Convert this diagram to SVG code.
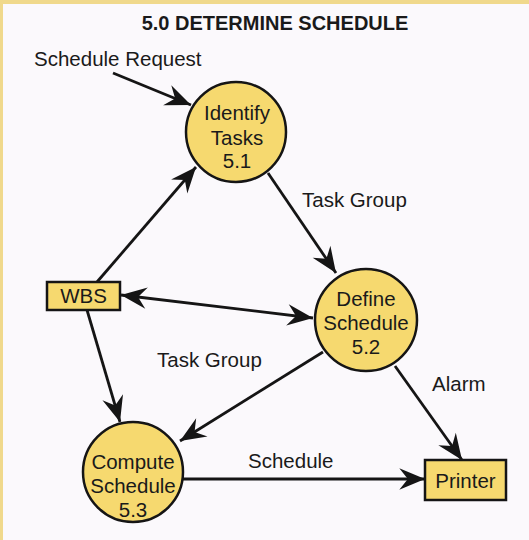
<svg xmlns="http://www.w3.org/2000/svg" width="529" height="540" viewBox="0 0 529 540">
<defs>
<marker id="ah" markerUnits="userSpaceOnUse" markerWidth="30" markerHeight="30" viewBox="-26 -11 28 22" refX="0" refY="0" orient="auto-start-reverse">
<path d="M0,0 L-24,-10 L-16,0 L-24,10 Z" fill="#151515"/>
</marker>
<style>
.bubble{fill:#f6d96f;stroke:#151515;stroke-width:2.5}
.box{fill:#f6d96f;stroke:#151515;stroke-width:2.5}
.t{font-family:"Liberation Sans",Arial,sans-serif;font-size:20.5px;fill:#1a1a1a;text-anchor:middle}
.lbl{font-family:"Liberation Sans",Arial,sans-serif;font-size:20.5px;fill:#1a1a1a}
.c{fill:none;stroke:#151515;stroke-width:2.8;marker-end:url(#ah)}
</style>
</defs>
<rect width="529" height="540" fill="#fbf9fc"/>
<rect x="0" y="0" width="529" height="4" fill="#f0d98c"/>
<rect x="0" y="0" width="3" height="540" fill="#f0d98c"/>
<text x="275" y="30" class="t" style="font-weight:bold;font-size:20px">5.0 DETERMINE SCHEDULE</text>
<g id="connectors">
<line class="c" x1="113" y1="73" x2="191" y2="105"/>
<line class="c" x1="97" y1="282" x2="196" y2="167"/>
<line class="c" x1="121" y1="295" x2="313" y2="318" style="marker-start:url(#ah)"/>
<line class="c" x1="87" y1="310" x2="120" y2="422"/>
<line class="c" x1="268" y1="173" x2="336" y2="273"/>
<line class="c" x1="323" y1="352" x2="180" y2="441"/>
<line class="c" x1="395" y1="366" x2="462" y2="460"/>
<line class="c" x1="183" y1="479" x2="425" y2="479"/>
<text class="lbl" x="34" y="66">Schedule Request</text>
<text class="lbl" x="302" y="207">Task Group</text>
<text class="lbl" x="157" y="367">Task Group</text>
<text class="lbl" x="432" y="391">Alarm</text>
<text class="lbl" x="248" y="468">Schedule</text>
</g>
<g id="n51">
<circle class="bubble" cx="236" cy="132" r="50"/>
<text class="t" x="237" y="120">Identify</text>
<text class="t" x="237" y="145">Tasks</text>
<text class="t" x="237" y="168">5.1</text>
</g>
<g id="n52">
<circle class="bubble" cx="366" cy="320" r="51"/>
<text class="t" x="366" y="306">Define</text>
<text class="t" x="366" y="330">Schedule</text>
<text class="t" x="366" y="354">5.2</text>
</g>
<g id="n53">
<circle class="bubble" cx="133" cy="472" r="50"/>
<text class="t" x="133" y="469">Compute</text>
<text class="t" x="133" y="493">Schedule</text>
<text class="t" x="133" y="517">5.3</text>
</g>
<g id="wbs">
<rect class="box" x="47" y="282" width="73" height="28"/>
<text class="t" x="83.5" y="303">WBS</text>
</g>
<g id="printer">
<rect class="box" x="425" y="460" width="81" height="40"/>
<text class="t" x="465.5" y="488">Printer</text>
</g>
</svg>
